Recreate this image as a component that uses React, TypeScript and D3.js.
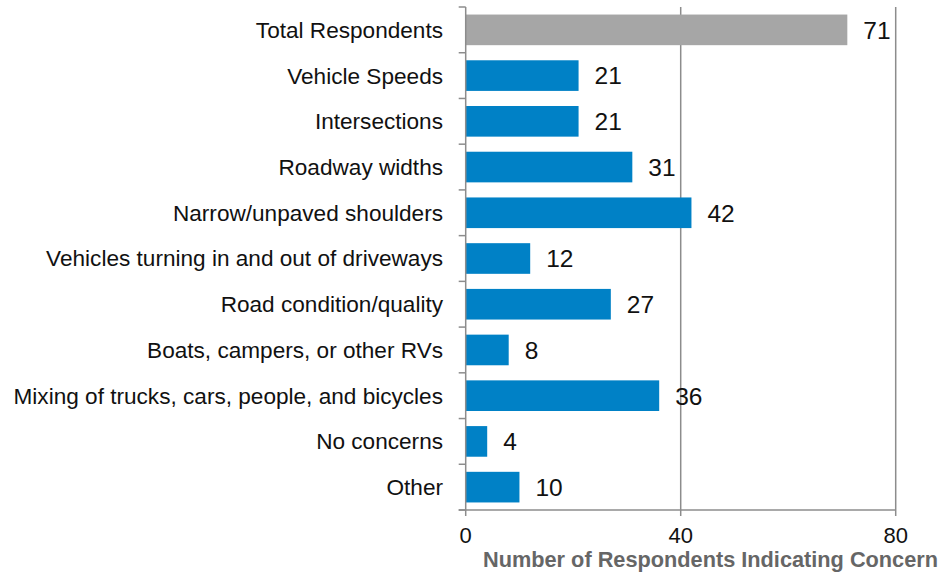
import React from "react";
import * as d3 from "d3";

const categories = [
  "Total Respondents",
  "Vehicle Speeds",
  "Intersections",
  "Roadway widths",
  "Narrow/unpaved shoulders",
  "Vehicles turning in and out of driveways",
  "Road condition/quality",
  "Boats, campers, or other RVs",
  "Mixing of trucks, cars, people, and bicycles",
  "No concerns",
  "Other",
];
const values = [71, 21, 21, 31, 42, 12, 27, 8, 36, 4, 10];
const xTicks = [0, 40, 80];
const axisTitle = "Number of Respondents Indicating Concern";

export default function App() {
  const W = 949, H = 574;
  const left = 465.7, right = 895.7, top = 7, bottom = 510;
  const x = d3.scaleLinear().domain([0, 80]).range([left, right]);
  const y = d3.scaleBand<string>().domain(categories).range([top, bottom]).paddingInner(0.33).paddingOuter(0.165);
  const step = y.step();
  const font = "'Liberation Sans', Arial, sans-serif";
  return (
    <svg width={W} height={H} style={{ position: "absolute", left: 0, top: 0, background: "#fff" }}>
      {xTicks.filter((t) => t > 0).map((t) => (
        <line key={t} x1={x(t)} x2={x(t)} y1={top} y2={bottom} stroke="#8c8c8c" strokeWidth={1.5} />
      ))}
      {categories.map((c, i) => (
        <rect key={c} x={x(0)} y={y(c)!} width={x(values[i]) - x(0)} height={y.bandwidth()}
          fill={i === 0 ? "#a6a6a6" : "#0081c6"} />
      ))}
      {/* y axis */}
      <line x1={left} x2={left} y1={top} y2={bottom} stroke="#8c8c8c" strokeWidth={1.5} />
      {d3.range(categories.length + 1).map((i) => (
        <line key={i} x1={left - 7} x2={left} y1={top + i * step} y2={top + i * step} stroke="#8c8c8c" strokeWidth={1.5} />
      ))}
      {/* x axis */}
      <line x1={left - 7} x2={right} y1={bottom} y2={bottom} stroke="#8c8c8c" strokeWidth={1.5} />
      {xTicks.map((t) => (
        <line key={t} x1={x(t)} x2={x(t)} y1={bottom} y2={bottom + 6} stroke="#8c8c8c" strokeWidth={1.5} />
      ))}
      {xTicks.map((t) => (
        <text key={t} x={x(t)} y={543} textAnchor="middle" fontFamily={font} fontSize={22} fill="#111">{t}</text>
      ))}
      {categories.map((c, i) => (
        <text key={c} x={443} y={y(c)! + y.bandwidth() / 2} dy="0.35em" textAnchor="end" fontFamily={font} fontSize={22.6} fill="#111">{c}</text>
      ))}
      {categories.map((c, i) => (
        <text key={c} x={x(values[i]) + 16} y={y(c)! + y.bandwidth() / 2} dy="0.36em" fontFamily={font} fontSize={24.5} fill="#111">{values[i]}</text>
      ))}
      <text x={938} y={567} textAnchor="end" fontFamily={font} fontWeight="bold" fontSize={22} fill="#666" textLength={455} lengthAdjust="spacingAndGlyphs">{axisTitle}</text>
    </svg>
  );
}
